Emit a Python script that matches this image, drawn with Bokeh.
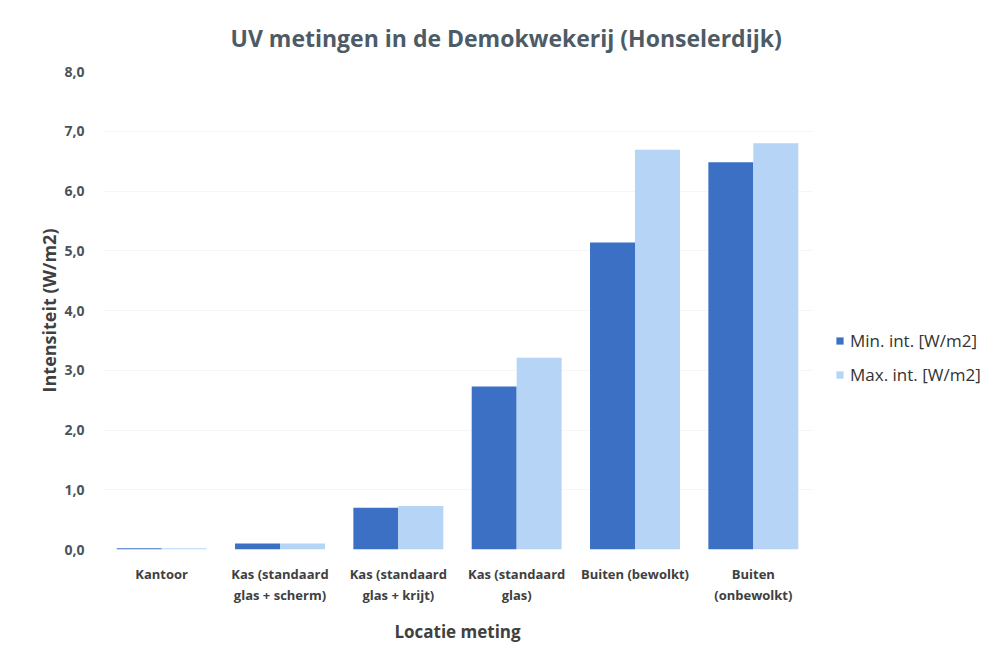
from bokeh.plotting import figure
from bokeh.models import (ColumnDataSource, FactorRange, Range1d, Legend, LegendItem,
                          CustomJSTickFormatter, FixedTicker)
from bokeh.transform import dodge
from bokeh.embed import file_html
from bokeh.resources import INLINE

categories = ["Kantoor", "Kas (standaard\nglas + scherm)", "Kas (standaard\nglas + krijt)",
              "Kas (standaard\nglas)", "Buiten (bewolkt)", "Buiten\n(onbewolkt)"]
min_int = [0.02, 0.10, 0.70, 2.73, 5.14, 6.48]
max_int = [0.02, 0.10, 0.73, 3.21, 6.69, 6.80]
y_ticks = [0, 1, 2, 3, 4, 5, 6, 7, 8]

FONT = "Open Sans"
src = ColumnDataSource(dict(cat=categories, mn=min_int, mx=max_int))

p = figure(x_range=FactorRange(*categories), y_range=Range1d(0, 8),
           frame_width=710, frame_height=478, output_backend="svg", toolbar_location=None,
           min_border_left=102, min_border_right=172, min_border_top=71, min_border_bottom=99)

r1 = p.vbar(x=dodge("cat", -0.19, range=p.x_range), top="mn", width=0.38, source=src,
            fill_color="#3B70C4", line_color=None)
r2 = p.vbar(x=dodge("cat", 0.19, range=p.x_range), top="mx", width=0.38, source=src,
            fill_color="#B5D4F6", line_color=None)

p.title.text = "UV metingen in de Demokwekerij (Honselerdijk)"
p.title.align = "left"
p.title.offset = 128
p.title.text_font = FONT
p.title.text_font_size = "23px"
p.title.text_font_style = "bold"
p.title.text_color = "#4D5B66"
p.title.standoff = 36

p.outline_line_color = None
p.xgrid.grid_line_color = None
p.ygrid.grid_line_color = "#F6F6F6"

p.yaxis.ticker = FixedTicker(ticks=y_ticks)
p.yaxis.formatter = CustomJSTickFormatter(code="return tick.toFixed(1).replace('.', ',');")
p.yaxis.axis_line_color = None
p.yaxis.major_tick_line_color = None
p.yaxis.minor_tick_line_color = None
p.yaxis.major_label_text_font = FONT
p.yaxis.major_label_text_font_size = "14px"
p.yaxis.major_label_text_font_style = "bold"
p.yaxis.major_label_text_color = "#4A545C"
p.yaxis.major_label_standoff = 12
p.yaxis.axis_label = "Intensiteit (W/m2)"
p.yaxis.axis_label_text_font = FONT
p.yaxis.axis_label_text_font_size = "18px"
p.yaxis.axis_label_text_font_style = "bold"
p.yaxis.axis_label_text_color = "#404040"
p.yaxis.axis_label_standoff = 0

p.xaxis.axis_line_color = None
p.xaxis.major_tick_line_color = None
p.xaxis.minor_tick_line_color = None
p.xaxis.major_label_text_font = FONT
p.xaxis.major_label_text_font_size = "13px"
p.xaxis.major_label_text_font_style = "bold"
p.xaxis.major_label_text_color = "#404040"
p.xaxis.major_label_standoff = 9
p.xaxis.axis_label = "Locatie meting"
p.xaxis.axis_label_text_font = FONT
p.xaxis.axis_label_text_font_size = "17px"
p.xaxis.axis_label_text_font_style = "bold"
p.xaxis.axis_label_text_color = "#404040"
p.xaxis.axis_label_standoff = 13

legend = Legend(items=[LegendItem(label="Min. int. [W/m2]", renderers=[r1]),
                       LegendItem(label="Max. int. [W/m2]", renderers=[r2])],
                location=(23, 163), border_line_color=None, background_fill_alpha=0,
                label_text_font=FONT, label_text_font_size="17px", label_text_color="#333333",
                glyph_width=9, glyph_height=9, spacing=11, margin=0, padding=0,
                label_standoff=6, label_height=22)
p.add_layout(legend, "right")

open("out.html", "w").write(file_html(p, INLINE))
